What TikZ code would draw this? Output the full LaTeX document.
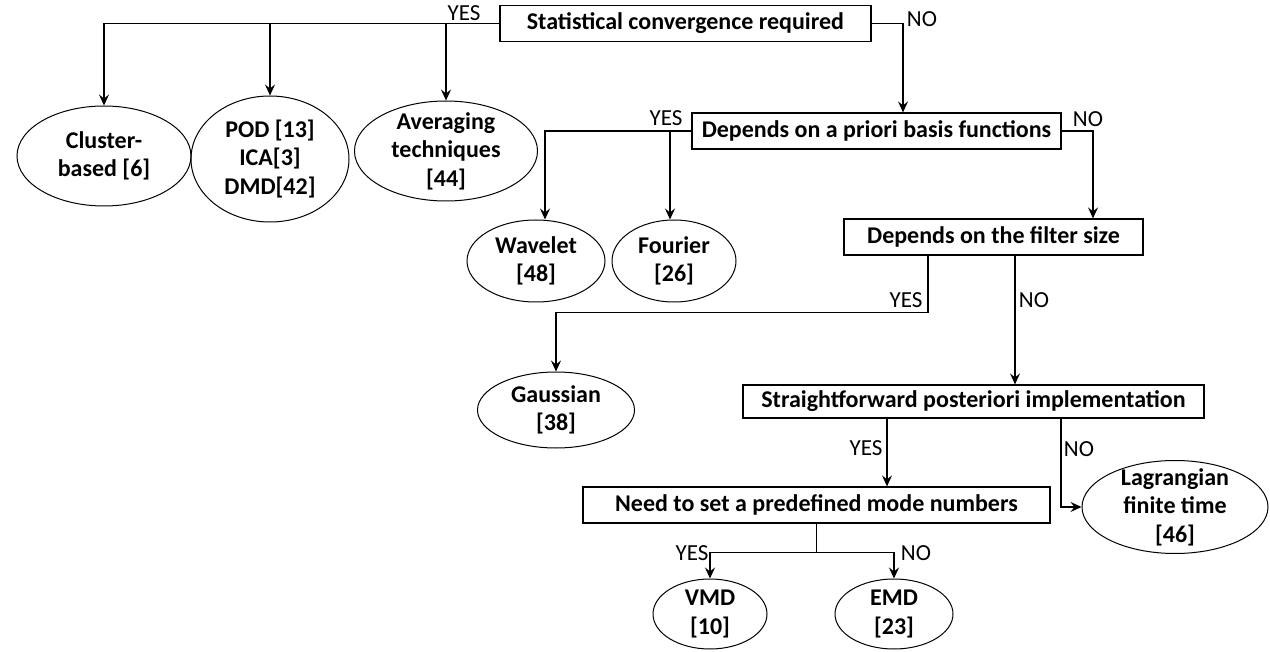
\documentclass[tikz,border=0pt]{standalone}
\usepackage{fontspec}
\setmainfont{Carlito}
\usetikzlibrary{positioning,arrows.meta,shapes.geometric}
\tikzset{
    base/.style={font=\bfseries\fontsize{24}{28.5}\selectfont, align=center},
    test/.style={base, rectangle, draw, line width=1.2pt, inner sep=0pt, minimum height=36pt},
    method/.style={base, ellipse, draw, line width=1pt, inner sep=-12pt},
    flow/.style={-{Stealth[length=11pt,width=10pt,inset=4pt]}, line width=1.3pt},
    answer/.style={font=\fontsize{23}{23}\selectfont, inner sep=0pt}
}
\begin{document}
\begin{tikzpicture}[x=1pt, y=-1pt]
  \useasboundingbox (0,0) rectangle (1270,652);
  % Decisions
  \node[test, minimum width=371pt] (stat) at (685.5,23.5) {Statistical convergence required};
  \node[test, minimum width=369pt] (basis) at (876.5,131) {Depends on a priori basis functions};
  \node[test, minimum width=299pt] (filter) at (993.5,237) {Depends on the filter size};
  \node[test, minimum width=461pt, minimum height=33pt] (impl) at (973.5,401.5) {Straightforward posteriori implementation};
  \node[test, minimum width=467pt] (need) at (816.5,505) {Need to set a predefined mode numbers};

  % Methods
  \node[method, minimum width=174pt, minimum height=100pt] (cluster) at (104,156) {Cluster-\\based [6]};
  \node[method, minimum width=158pt, minimum height=126pt] (pod) at (270,159) {POD [13]\\ICA[3]\\DMD[42]};
  \node[method, minimum width=183pt, minimum height=100pt] (avg) at (446,151) {Averaging\\techniques\\{[44]}};
  \node[method, minimum width=138pt, minimum height=82pt] (wavelet) at (536,261) {Wavelet\\{[48]}};
  \node[method, minimum width=124pt, minimum height=82pt] (fourier) at (674,261) {Fourier\\{[26]}};
  \node[method, minimum width=157pt, minimum height=76pt] (gauss) at (556,410) {Gaussian\\{[38]}};
  \node[method, minimum width=186pt, minimum height=93pt] (lagr) at (1175,507) {Lagrangian\\finite time\\{[46]}};
  \node[method, minimum width=114pt, minimum height=70pt] (vmd) at (710,614) {VMD\\{[10]}};
  \node[method, minimum width=118pt, minimum height=70pt] (emd) at (894,614) {EMD\\{[23]}};

  % Connectors
  \draw[flow] (stat.west) -| (cluster.north);
  \draw[flow] (stat.west) -| (pod.north);
  \draw[flow] (stat.west) -| (avg.north);
  \draw[flow] (stat.east) -| ([xshift=26.5pt]basis.north);
  \draw[flow] (basis.west) -| ([xshift=9pt]wavelet.north);
  \draw[flow] (basis.west) -| ([xshift=-4pt]fourier.north);
  \draw[flow] (basis.east) -| ([xshift=99.5pt]filter.north);
  \draw[flow] ([xshift=-65.5pt]filter.south) -- ++(0,57) -| (gauss.north);
  \draw[flow] ([xshift=21.5pt]filter.south) -- ([xshift=21.5pt]filter.south |- impl.north);
  \draw[flow] ([xshift=-86.5pt]impl.south) -- ([xshift=-86.5pt]impl.south |- need.north);
  \draw[flow] ([xshift=87.5pt]impl.south) |- (lagr.west);
  \draw[line width=1.3pt] (need.south) -- ++(0,29) coordinate (split);
  \draw[flow] (split) -| (vmd.north);
  \draw[flow] (split) -| (emd.north);

  % Answers
  \node[answer] (yesstat) at (464,13) {YES};
  \node[answer] (nostat) at (922,19) {NO};
  \node[answer] (yesbasis) at (666,118) {YES};
  \node[answer] (nobasis) at (1088,119) {NO};
  \node[answer] (yesfilter) at (906,300) {YES};
  \node[answer] (nofilter) at (1034,300) {NO};
  \node[answer] (yesimpl) at (866,448) {YES};
  \node[answer] (noimpl) at (1079,449) {NO};
  \node[answer] (yesneed) at (692,553) {YES};
  \node[answer] (noneed) at (916,553) {NO};
\end{tikzpicture}
\end{document}
